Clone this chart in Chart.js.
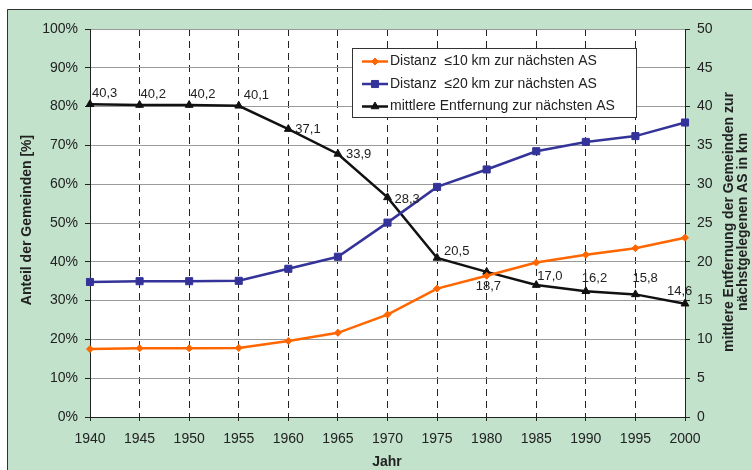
<!DOCTYPE html>
<html>
<head>
<meta charset="utf-8">
<script src="https://cdn.jsdelivr.net/npm/chart.js@4.4.1/dist/chart.umd.min.js"></script>
<style>
  html, body { margin: 0; padding: 0; background: #fff; }
  #wrap { width: 752px; height: 470px; }
</style>
</head>
<body>
<div id="wrap"><canvas id="chart" width="752" height="470"></canvas></div>
<script>
const years = ['1940', '1945', '1950', '1955', '1960', '1965', '1970',
  '1975', '1980', '1985', '1990', '1995', '2000'];
// share of municipalities (%) within 10 km / 20 km of the next AS
const within10 = [17.5, 17.7, 17.7, 17.8, 19.6, 21.7, 26.4, 33.1, 36.4, 39.8,
  41.8, 43.5, 46.2];
const within20 = [34.8, 35.0, 35.0, 35.1, 38.2, 41.3, 50.1, 59.3, 63.8, 68.5,
  70.9, 72.4, 75.9];
// mean distance to next AS in km (right axis)
const meanDistance = [40.3, 40.2, 40.2, 40.1, 37.1, 33.9, 28.3, 20.5, 18.7,
  17.0, 16.2, 15.8, 14.6];

const seriesNames = [
  'Distanz  \u226410 km zur n\u00e4chsten AS',
  'Distanz  \u226420 km zur n\u00e4chsten AS',
  'mittlere Entfernung zur n\u00e4chsten AS'
];

const FONT = "'Liberation Sans', Arial, sans-serif";
const GREEN = '#c2e2cc';
const INK = '#222';

const framePlugin = {
  id: 'frame',
  beforeDraw(chart) {
    const {ctx, chartArea: a} = chart;
    ctx.save();
    ctx.fillStyle = '#fff';
    ctx.fillRect(0, 0, chart.width, chart.height);
    ctx.fillStyle = GREEN;
    ctx.fillRect(7, 9, chart.width - 7, chart.height - 9);
    ctx.strokeStyle = '#333';
    ctx.lineWidth = 1;
    ctx.beginPath();
    ctx.moveTo(7.5, chart.height);
    ctx.lineTo(7.5, 9.5);
    ctx.lineTo(chart.width, 9.5);
    ctx.stroke();
    ctx.fillStyle = '#fff';
    ctx.fillRect(a.left, a.top, a.right - a.left, a.bottom - a.top);
    ctx.restore();
  },
  afterDraw(chart) {
    const ctx = chart.ctx;
    ctx.save();
    ctx.fillStyle = INK;
    ctx.font = 'bold 14px ' + FONT;
    ctx.textAlign = 'center';
    ctx.textBaseline = 'middle';
    ctx.fillText('Jahr', 387, 462);

    ctx.translate(27, 220);
    ctx.rotate(-Math.PI / 2);
    ctx.fillText('Anteil der Gemeinden [%]', 0, 0);
    ctx.restore();

    ctx.save();
    ctx.fillStyle = INK;
    ctx.font = 'bold 14px ' + FONT;
    ctx.textAlign = 'center';
    ctx.textBaseline = 'middle';
    ctx.translate(729, 222);
    ctx.rotate(-Math.PI / 2);
    ctx.fillText('mittlere Entfernung der Gemeinden zur', 0, 0);
    ctx.fillText('n\u00e4chstgelegenen AS in km', 0, 14);
    ctx.restore();
  }
};

const legendPlugin = {
  id: 'boxLegend',
  afterDraw(chart) {
    const ctx = chart.ctx;
    ctx.save();
    ctx.fillStyle = '#fff';
    ctx.fillRect(352, 48, 285, 70);
    ctx.strokeStyle = '#333';
    ctx.lineWidth = 1;
    ctx.strokeRect(352.5, 48.5, 284, 69);
    chart.data.datasets.forEach((ds, i) => {
      const y = 61.5 + i * 22.5;
      ctx.strokeStyle = ds.borderColor;
      ctx.lineWidth = 2.5;
      ctx.beginPath();
      ctx.moveTo(362, y);
      ctx.lineTo(388, y);
      ctx.stroke();
      ctx.fillStyle = ds.borderColor;
      ctx.lineWidth = 1;
      Chart.helpers.drawPoint(ctx, {
        pointStyle: ds.pointStyle,
        radius: ds.pointRadius,
        rotation: 0,
        borderWidth: 1
      }, 375, y);
      ctx.fillStyle = INK;
      ctx.font = '14px ' + FONT;
      ctx.textAlign = 'left';
      ctx.textBaseline = 'middle';
      ctx.fillText(seriesNames[i], 390, y);
    });
    ctx.restore();
  }
};

const labelPlugin = {
  id: 'distLabels',
  afterDatasetsDraw(chart, args, opts) {
    const ctx = chart.ctx;
    const meta = chart.getDatasetMeta(2);
    ctx.save();
    ctx.fillStyle = INK;
    ctx.font = '13px ' + FONT;
    ctx.textAlign = 'left';
    ctx.textBaseline = 'middle';
    meta.data.forEach((pt, i) => {
      const off = opts.offsets[i];
      const txt = meanDistance[i].toFixed(1).replace('.', ',');
      ctx.fillText(txt, pt.x + off[0], pt.y + off[1]);
    });
    ctx.restore();
  }
};

new Chart(document.getElementById('chart'), {
  type: 'line',
  data: {
    labels: years,
    datasets: [
      {
        label: seriesNames[0],
        data: within10,
        yAxisID: 'y',
        borderColor: '#ff6600',
        backgroundColor: '#ff6600',
        borderWidth: 2.5,
        pointStyle: 'rectRot',
        pointRadius: 3.5,
        pointBorderWidth: 1,
        tension: 0,
        clip: false
      },
      {
        label: seriesNames[1],
        data: within20,
        yAxisID: 'y',
        borderColor: '#333399',
        backgroundColor: '#333399',
        borderWidth: 2.5,
        pointStyle: 'rect',
        pointRadius: 5,
        pointBorderWidth: 1,
        tension: 0,
        clip: false
      },
      {
        label: seriesNames[2],
        data: meanDistance,
        yAxisID: 'y2',
        borderColor: '#111111',
        backgroundColor: '#111111',
        borderWidth: 2.5,
        pointStyle: 'triangle',
        pointRadius: 4.5,
        pointBorderWidth: 1,
        tension: 0,
        clip: false
      }
    ]
  },
  options: {
    responsive: false,
    animation: false,
    layout: { padding: { top: 29, left: 0, right: 0, bottom: 0 } },
    plugins: {
      legend: { display: false },
      tooltip: { enabled: false },
      distLabels: {
        offsets: [[2, -11], [1, -11], [1, -11], [5, -10], [7, 0], [8, 0],
          [7, 2], [7, -6], [-11, 15], [1, -9], [-4, -13], [-3, -16],
          [-18, -12]]
      }
    },
    scales: {
      x: {
        type: 'category',
        offset: false,
        grid: {
          color: INK,
          lineWidth: 1,
          tickLength: 4,
          tickColor: INK
        },
        border: { display: true, color: INK, width: 1, dash: [7, 5] },
        ticks: {
          font: { family: FONT, size: 14 },
          color: INK,
          padding: 10,
          maxRotation: 0,
          autoSkip: false
        },
        afterFit: s => { s.height = 53; }
      },
      y: {
        position: 'left',
        min: 0,
        max: 100,
        grid: { color: '#9a9a9a', lineWidth: 1, tickLength: 5, tickColor: INK },
        border: { display: true, color: INK, width: 1 },
        ticks: {
          stepSize: 10,
          font: { family: FONT, size: 14 },
          color: INK,
          padding: 7,
          callback: v => v + '%'
        },
        afterFit: s => { s.width = 90; }
      },
      y2: {
        position: 'right',
        min: 0,
        max: 50,
        grid: { drawOnChartArea: false, tickLength: 5, tickColor: INK },
        border: { display: true, color: INK, width: 1 },
        ticks: {
          stepSize: 5,
          font: { family: FONT, size: 14 },
          color: INK,
          padding: 7
        },
        afterFit: s => { s.width = 67; }
      }
    }
  },
  plugins: [framePlugin, legendPlugin, labelPlugin]
});
</script>
</body>
</html>
